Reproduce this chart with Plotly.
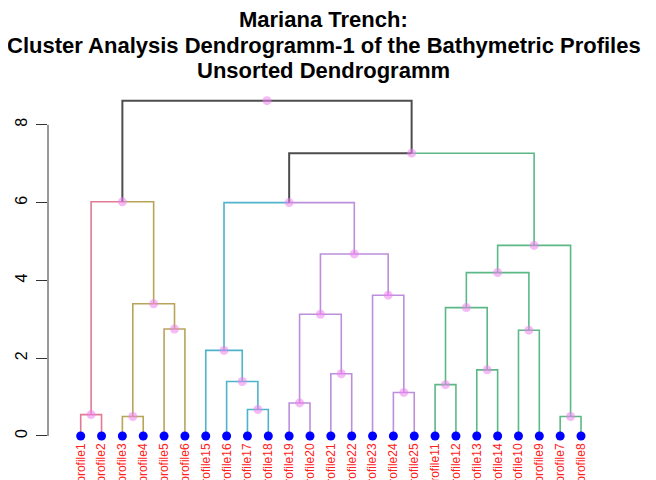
import plotly.graph_objects as go

# ---- data ----
leaf_labels = ["profile1", "profile2", "profile3", "profile4", "profile5", "profile6",
               "profile15", "profile16", "profile17", "profile18",
               "profile19", "profile20", "profile21", "profile22", "profile23", "profile24", "profile25",
               "profile11", "profile12", "profile13", "profile14", "profile10", "profile9",
               "profile7", "profile8"]

# merges: name, left child, right child, height
merge_names = ["m1", "m2", "m3", "m4", "m5", "m6", "m7", "m8", "m9", "m10", "m11", "m12",
               "m13", "m14", "m15", "m16", "m17", "m18", "m19", "m20", "m21", "m22", "m23", "m24"]
merge_left = ["profile1", "profile3", "profile5", "m2", "m1", "profile17", "profile16", "profile15",
              "profile19", "profile21", "m9", "profile24", "profile23", "m11", "m8",
              "profile11", "profile13", "m16", "profile10", "m18", "profile7", "m20", "m15", "m5"]
merge_right = ["profile2", "profile4", "profile6", "m3", "m4", "profile18", "m6", "m7",
               "profile20", "profile22", "m10", "profile25", "m12", "m13", "m14",
               "profile12", "profile14", "m17", "profile9", "m19", "profile8", "m21", "m22", "m23"]
merge_height = [0.55, 0.50, 2.75, 3.40, 6.02, 0.68, 1.40, 2.20,
                0.85, 1.60, 3.13, 1.12, 3.62, 4.68, 6.00,
                1.32, 1.70, 3.30, 2.72, 4.20, 0.50, 4.90, 7.27, 8.62]

cluster_roots = ["m1", "m4", "m8", "m14", "m22"]
cluster_colors = ["#E07A95", "#B8A55A", "#4FB3CC", "#BC8FDC", "#5CB886"]
top_color = "#4d4d4d"
y_ticks = [0, 2, 4, 6, 8]

# ---- build positions ----
pos = {}
hgt = {}
for i, lab in enumerate(leaf_labels):
    pos[lab] = i + 1
    hgt[lab] = 0.0
children = {}
for n, l, r, h in zip(merge_names, merge_left, merge_right, merge_height):
    pos[n] = (pos[l] + pos[r]) / 2.0
    hgt[n] = h
    children[n] = (l, r)

color_of = {}
def paint(node, col):
    color_of[node] = col
    if node in children:
        for c in children[node]:
            paint(c, col)
for root, col in zip(cluster_roots, cluster_colors):
    paint(root, col)

segs = {}
for n in merge_names:
    for c in children[n]:
        col = color_of.get(c, top_color)
        xs, ys = segs.setdefault(col, ([], []))
        xs += [pos[n], pos[c], pos[c], None]
        ys += [hgt[n], hgt[n], hgt[c], None]

fig = go.Figure()
for col, (xs, ys) in segs.items():
    fig.add_trace(go.Scatter(x=xs, y=ys, mode="lines",
                             line=dict(color=col, width=1.6 if col != top_color else 2),
                             hoverinfo="skip", showlegend=False))

fig.add_trace(go.Scatter(x=[pos[n] for n in merge_names], y=merge_height, mode="markers",
                         marker=dict(color="rgba(238,130,238,0.55)", size=9),
                         showlegend=False, cliponaxis=False))
fig.add_trace(go.Scatter(x=[pos[l] for l in leaf_labels], y=[0] * len(leaf_labels), mode="markers",
                         marker=dict(color="#0000FF", size=9),
                         showlegend=False, cliponaxis=False))

fig.add_shape(type="line", xref="paper", yref="y", x0=0, x1=0, y0=y_ticks[0], y1=y_ticks[-1],
              line=dict(color="#333333", width=1))

title_lines = ["Mariana Trench:",
               "Cluster Analysis Dendrogramm-1 of the Bathymetric Profiles",
               "Unsorted Dendrogramm"]
for txt, yy in zip(title_lines, [1.219, 1.144, 1.071]):
    fig.add_annotation(text="<b>" + txt + "</b>", xref="paper", yref="paper", x=0.4825, y=yy,
                       xanchor="center", yanchor="middle", showarrow=False,
                       font=dict(family="Liberation Sans, Arial", size=22, color="black"))

fig.update_layout(
    width=648, height=472,
    margin=dict(l=40, r=36, t=87, b=40, autoexpand=False),
    paper_bgcolor="white", plot_bgcolor="white",
    font=dict(family="Liberation Sans, Arial"),
    xaxis=dict(range=[-0.568, 26.87], tickmode="array",
               tickvals=[pos[l] for l in leaf_labels], ticktext=leaf_labels,
               tickangle=-90, tickfont=dict(color="#FF2020", size=12),
               showgrid=False, zeroline=False, showline=False, ticks="", automargin=False),
    yaxis=dict(range=[-0.103, 8.766], tickmode="array", tickvals=y_ticks,
               ticktext=[str(v) for v in y_ticks], tickangle=-90,
               tickfont=dict(color="black", size=16), ticklabelstandoff=3,
               ticks="outside", ticklen=11, tickcolor="#333333", tickwidth=1,
               showgrid=False, zeroline=False, showline=False, automargin=False),
)

fig.write_html("out.html")
